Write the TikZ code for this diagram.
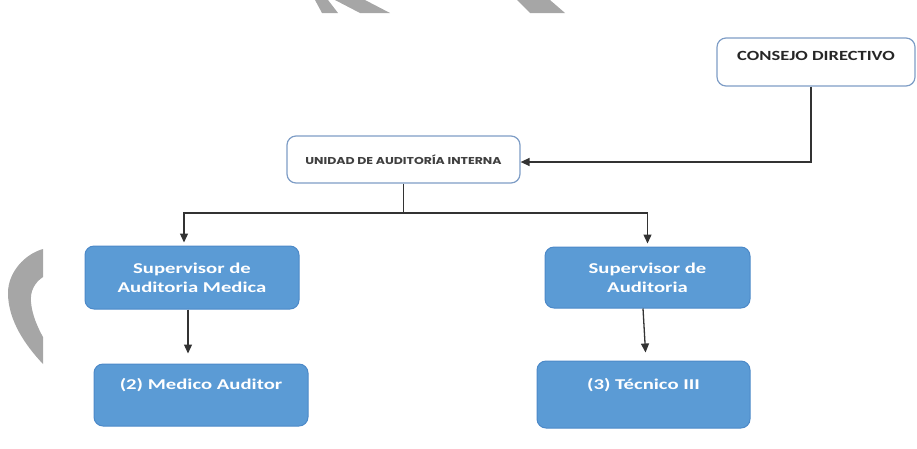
\documentclass[tikz,border=0pt]{standalone}
\usepackage{fontspec}
\usetikzlibrary{arrows.meta}
\newfontfamily\calw[FakeStretch=1.38]{Carlito}
\newfontfamily\calcd[FakeStretch=1.32]{Carlito}
\newfontfamily\popw[FakeStretch=1.25]{Poppins}
\definecolor{boxblue}{HTML}{5B9BD5}
\definecolor{boxblueline}{HTML}{4C89C8}
\definecolor{wline}{HTML}{7E9DC6}
\definecolor{wmark}{HTML}{A6A6A6}
\definecolor{lin}{HTML}{333333}
\tikzset{
  bluebox/.style={draw=boxblueline, fill=boxblue, line width=1pt, rounded corners=9pt,
    text=white, font=\calw\bfseries\fontsize{15}{19}\selectfont, align=center, inner sep=0pt},
  whitebox/.style={draw=wline, fill=white, line width=1.2pt, rounded corners=9pt, inner sep=0pt},
  conn/.style={draw=lin, line width=1.3pt},
  arr/.style={conn, -{Triangle[length=9pt,width=8pt]}},
}
\begin{document}
\begin{tikzpicture}[x=1pt,y=-1pt]
\useasboundingbox (0,0) rectangle (917,448);
% watermark fragments
\fill[wmark] (315,0) -- (328,0) -- (338,13) -- (322,13) -- cycle;
\fill[wmark] (335,0) -- (365,0) -- (390,13) -- (360,13) -- cycle;
\fill[wmark] (517,0) -- (550,0) -- (565,13) -- (530,13) -- cycle;
\fill[wmark] (43,249) -- (43,277) .. controls (34,283) and (30,292) .. (31,302)
  .. controls (32,315) and (38,328) .. (43,337) -- (43,364)
  .. controls (25,345) and (8,320) .. (8,293)
  .. controls (8,272) and (25,254) .. (43,249) -- cycle;
% nodes
\node[whitebox, minimum width=198pt, text height=22pt, text depth=26pt,
  font=\calcd\bfseries\fontsize{14}{16}\selectfont, text=black!85] (cd) at (816,62) {CONSEJO DIRECTIVO};
\node[whitebox, minimum width=233pt, minimum height=47pt,
  font=\popw\bfseries\fontsize{10}{12}\selectfont, text=black!75] (uai) at (403.5,159.5) {UNIDAD DE AUDITORÍA INTERNA};
\node[bluebox, minimum width=214pt, minimum height=63pt] (sam) at (192,277.5) {Supervisor de\\Auditoria Medica};
\node[bluebox, minimum width=205pt, minimum height=61pt] (sa) at (647.5,277.5) {Supervisor de\\Auditoria};
\node[bluebox, minimum width=214pt, text height=25pt, text depth=37pt] (ma) at (201,395) {(2) Medico Auditor};
\node[bluebox, minimum width=213pt, text height=28pt, text depth=39pt] (t3) at (643.5,394.5) {(3) Técnico III};
% connectors
\coordinate (j) at (403.5,213);
\draw[conn] (uai.south) -- (j);
\draw[arr, shorten >=3pt] (j) -| ([xshift=-8pt]sam.north);
\draw[arr, shorten >=3pt] (j) -| (sa.north);
\draw[arr] ([xshift=-5pt]cd.south) |- ([yshift=-2.5pt]uai.east);
\draw[arr, shorten >=10pt] ([xshift=-4pt]sam.south) -- ([xshift=-4pt]sam.south |- ma.north);
\draw[arr, shorten >=8pt] ([xshift=-4.5pt]sa.south) -- ([xshift=2.5pt]t3.north);
\end{tikzpicture}
\end{document}
